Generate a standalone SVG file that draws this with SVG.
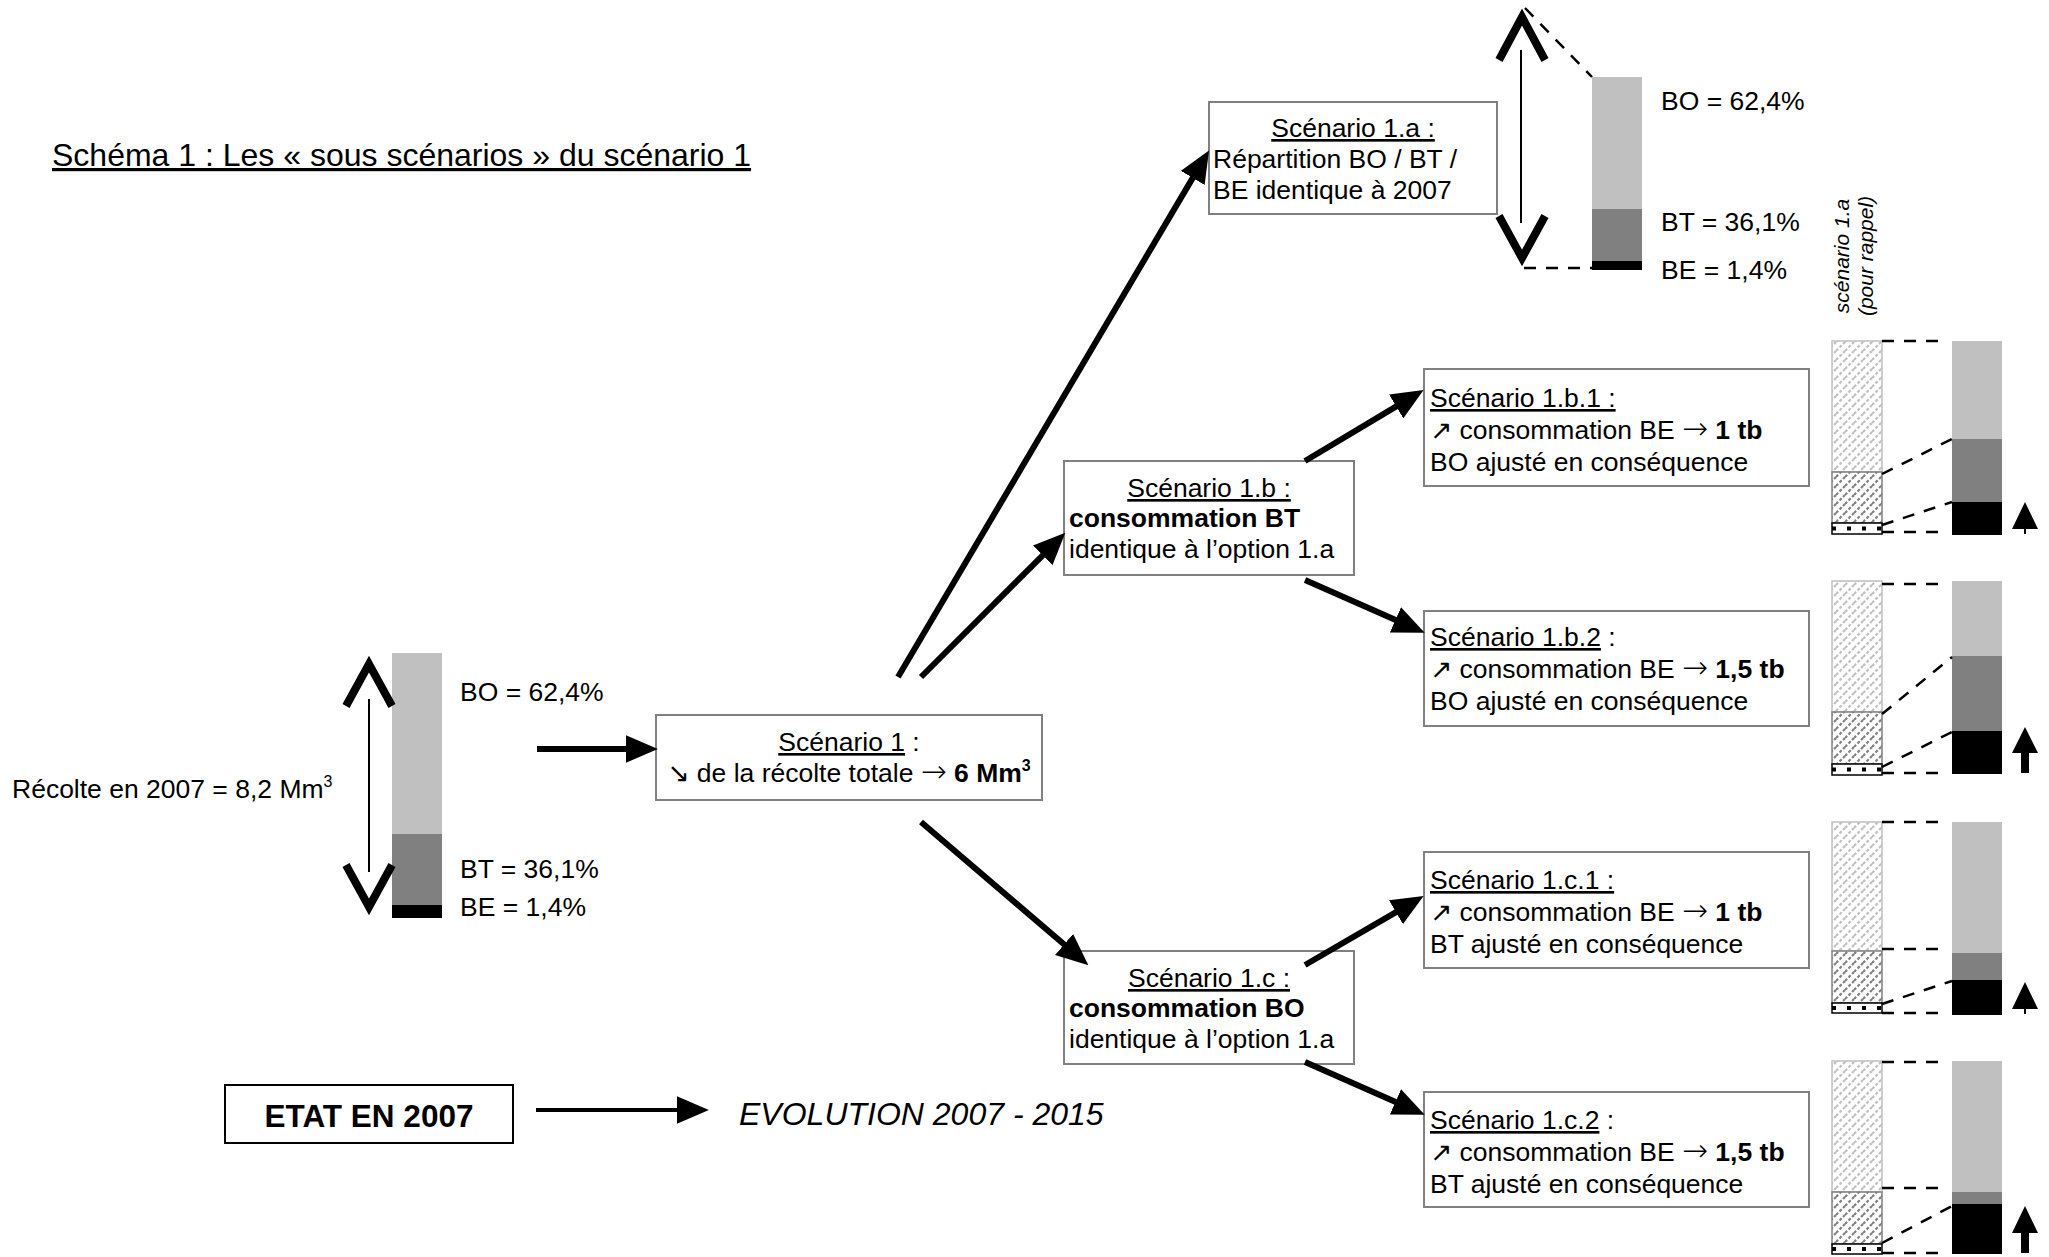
<svg xmlns="http://www.w3.org/2000/svg" width="2049" height="1257" viewBox="0 0 2049 1257">
<style>
text{font-family:"Liberation Sans",Arial,"DejaVu Sans",sans-serif;font-size:26.5px;fill:#000}
.u{text-decoration:underline}
.b{font-weight:bold}
.ar{font-family:"DejaVu Sans",sans-serif;font-size:26.5px}
.ra{font-family:"DejaVu Sans",sans-serif;font-size:31px;font-weight:200}
.box{fill:#fff;stroke:#808080;stroke-width:2}
.con{stroke:#000;stroke-width:6;fill:none;marker-end:url(#ah)}
.chev{stroke:#000;stroke-width:8;fill:none;stroke-linejoin:miter;stroke-miterlimit:10}
.thin{stroke:#000;stroke-width:2;fill:none}
.dash{stroke:#000;stroke-width:2.5;stroke-dasharray:12,10;fill:none}
.lo{fill:#c0c0c0}.md{fill:#808080}.hi{fill:#000}
.hl{fill:url(#hL);stroke:#c0c0c0;stroke-width:1.5}
.hm{fill:url(#hM);stroke:#808080;stroke-width:1.5}
.hb{fill:#fff;stroke:#000;stroke-width:1.5}
.hbd{stroke:#000;stroke-width:4;stroke-dasharray:4,11;fill:none}
</style>
<defs>
<marker id="ah" markerUnits="userSpaceOnUse" markerWidth="32" markerHeight="28" viewBox="0 0 30 26" refX="2" refY="13" orient="auto">
<path d="M0,0 L30,13 L0,26 z" fill="#000"/>
</marker>
<pattern id="hL" patternUnits="userSpaceOnUse" width="9" height="9">
<rect width="9" height="9" fill="#fff"/>
<path d="M0,9 L9,0 M-2,2 L2,-2 M7,11 L11,7" stroke="#c0c0c0" stroke-width="2.2" stroke-dasharray="3,2"/>
</pattern>
<pattern id="hM" patternUnits="userSpaceOnUse" width="9" height="9">
<rect width="9" height="9" fill="#fff"/>
<path d="M0,9 L9,0 M-2,2 L2,-2 M7,11 L11,7" stroke="#808080" stroke-width="2.2" stroke-dasharray="3,2"/>
</pattern>
</defs>

<text id="title" x="52" y="166" style="font-size:32px" class="u">Schéma 1 : Les « sous scénarios » du scénario 1</text>

<g id="etat2007">
<rect x="392" y="653" width="50" height="181" class="lo"/>
<rect x="392" y="834" width="50" height="71" class="md"/>
<rect x="392" y="905" width="50" height="13" class="hi"/>
<line x1="369" y1="699" x2="369" y2="872" class="thin"/>
<path d="M346,706 L369,664 L392,706" class="chev"/>
<path d="M346,865 L369,907 L392,865" class="chev"/>
<text x="460" y="701">BO = 62,4%</text>
<text x="460" y="878">BT = 36,1%</text>
<text x="460" y="916">BE = 1,4%</text>
<text x="12" y="798">Récolte en 2007 = 8,2 Mm<tspan style="font-size:16px" dy="-11">3</tspan></text>
</g>

<g id="scenario1">
<rect x="656" y="715" width="386" height="85" class="box"/>
<text x="849" y="751" text-anchor="middle"><tspan class="u">Scénario 1</tspan> :</text>
<text x="849" y="782" text-anchor="middle"><tspan class="ar">↘</tspan> de la récolte totale <tspan class="ra">→</tspan> <tspan class="b">6 Mm</tspan><tspan class="b" style="font-size:16px" dy="-11">3</tspan></text>
</g>

<g id="scenario1a">
<rect x="1209" y="102" width="288" height="112" class="box"/>
<text x="1353" y="137" text-anchor="middle" class="u">Scénario 1.a :</text>
<text x="1213" y="168">Répartition BO / BT /</text>
<text x="1213" y="199">BE identique à 2007</text>
</g>

<g id="bar1a">
<line x1="1521" y1="50" x2="1521" y2="223" class="thin"/>
<path d="M1499,60 L1522,17 L1545,60" class="chev"/>
<path d="M1499,216 L1522,258 L1545,216" class="chev"/>
<line x1="1525" y1="8" x2="1592" y2="77" class="dash"/>
<line x1="1524" y1="268" x2="1592" y2="268" class="dash"/>
<rect x="1592" y="77" width="50" height="132" class="lo"/>
<rect x="1592" y="209" width="50" height="52" class="md"/>
<rect x="1592" y="261" width="50" height="9" class="hi"/>
<text x="1661" y="110">BO = 62,4%</text>
<text x="1661" y="231">BT = 36,1%</text>
<text x="1661" y="279">BE = 1,4%</text>
</g>

<g id="rappel">
<text transform="translate(1849,256) rotate(-90)" text-anchor="middle" style="font-size:21px;font-style:italic">scénario 1.a</text>
<text transform="translate(1873,256) rotate(-90)" text-anchor="middle" style="font-size:21px;font-style:italic">(pour rappel)</text>
</g>

<g id="scenario1b">
<rect x="1064" y="461" width="290" height="114" class="box"/>
<text x="1209" y="497" text-anchor="middle" class="u">Scénario 1.b :</text>
<text x="1069" y="527" class="b">consommation BT</text>
<text x="1069" y="558">identique à l’option 1.a</text>
</g>

<g id="scenario1c">
<rect x="1064" y="951" width="290" height="113" class="box"/>
<text x="1209" y="987" text-anchor="middle" class="u">Scénario 1.c :</text>
<text x="1069" y="1017" class="b">consommation BO</text>
<text x="1069" y="1048">identique à l’option 1.a</text>
</g>

<g id="scenario1b1">
<rect x="1424" y="369" width="385" height="117" class="box"/>
<text x="1430" y="407" class="u">Scénario 1.b.1 :</text>
<text x="1430" y="439"><tspan class="ar">↗</tspan> consommation BE <tspan class="ra">→</tspan> <tspan class="b">1 tb</tspan></text>
<text x="1430" y="471">BO ajusté en conséquence</text>
</g>

<g id="scenario1b2">
<rect x="1424" y="611" width="385" height="115" class="box"/>
<text x="1430" y="646"><tspan class="u">Scénario 1.b.2</tspan> :</text>
<text x="1430" y="678"><tspan class="ar">↗</tspan> consommation BE <tspan class="ra">→</tspan> <tspan class="b">1,5 tb</tspan></text>
<text x="1430" y="710">BO ajusté en conséquence</text>
</g>

<g id="scenario1c1">
<rect x="1424" y="852" width="385" height="116" class="box"/>
<text x="1430" y="889" class="u">Scénario 1.c.1 :</text>
<text x="1430" y="921"><tspan class="ar">↗</tspan> consommation BE <tspan class="ra">→</tspan> <tspan class="b">1 tb</tspan></text>
<text x="1430" y="953">BT ajusté en conséquence</text>
</g>

<g id="scenario1c2">
<rect x="1424" y="1092" width="385" height="115" class="box"/>
<text x="1430" y="1129"><tspan class="u">Scénario 1.c.2</tspan> :</text>
<text x="1430" y="1161"><tspan class="ar">↗</tspan> consommation BE <tspan class="ra">→</tspan> <tspan class="b">1,5 tb</tspan></text>
<text x="1430" y="1193">BT ajusté en conséquence</text>
</g>

<g id="bars1b1">
<rect x="1832" y="341" width="50" height="131" class="hl"/>
<rect x="1832" y="472" width="50" height="51" class="hm"/>
<rect x="1832" y="523" width="50" height="11" class="hb"/>
<line x1="1832" y1="528.5" x2="1882" y2="528.5" class="hbd"/>
<rect x="1952" y="341" width="50" height="98" class="lo"/>
<rect x="1952" y="439" width="50" height="63" class="md"/>
<rect x="1952" y="502" width="50" height="33" class="hi"/>
<line x1="1882" y1="341" x2="1946" y2="341" class="dash"/>
<line x1="1882" y1="474" x2="1952" y2="439" class="dash"/>
<line x1="1882" y1="525" x2="1952" y2="502" class="dash"/>
<line x1="1882" y1="532" x2="1946" y2="532" class="dash"/>
<polygon points="2012,529 2038,529 2025,502" fill="#000"/>
<rect x="2024" y="528" width="2" height="6" fill="#000"/>
</g>

<g id="bars1b2">
<rect x="1832" y="581" width="50" height="131" class="hl"/>
<rect x="1832" y="712" width="50" height="52" class="hm"/>
<rect x="1832" y="764" width="50" height="11" class="hb"/>
<line x1="1832" y1="769.5" x2="1882" y2="769.5" class="hbd"/>
<rect x="1952" y="581" width="50" height="75" class="lo"/>
<rect x="1952" y="656" width="50" height="75" class="md"/>
<rect x="1952" y="731" width="50" height="43" class="hi"/>
<line x1="1882" y1="584" x2="1946" y2="584" class="dash"/>
<line x1="1882" y1="714" x2="1952" y2="657" class="dash"/>
<line x1="1882" y1="767" x2="1952" y2="732" class="dash"/>
<line x1="1882" y1="773" x2="1946" y2="773" class="dash"/>
<polygon points="2012,753 2038,753 2025,727" fill="#000"/>
<rect x="2021" y="752" width="8" height="21" fill="#000"/>
</g>

<g id="bars1c1">
<rect x="1832" y="822" width="50" height="129" class="hl"/>
<rect x="1832" y="951" width="50" height="52" class="hm"/>
<rect x="1832" y="1003" width="50" height="10" class="hb"/>
<line x1="1832" y1="1008" x2="1882" y2="1008" class="hbd"/>
<rect x="1952" y="822" width="50" height="131" class="lo"/>
<rect x="1952" y="953" width="50" height="27" class="md"/>
<rect x="1952" y="980" width="50" height="35" class="hi"/>
<line x1="1882" y1="822" x2="1946" y2="822" class="dash"/>
<line x1="1882" y1="949" x2="1946" y2="949" class="dash"/>
<line x1="1882" y1="1004" x2="1952" y2="981" class="dash"/>
<line x1="1882" y1="1013" x2="1946" y2="1013" class="dash"/>
<polygon points="2012,1009 2038,1009 2025,982" fill="#000"/>
<rect x="2024" y="1008" width="2" height="6" fill="#000"/>
</g>

<g id="bars1c2">
<rect x="1832" y="1061" width="50" height="131" class="hl"/>
<rect x="1832" y="1192" width="50" height="52" class="hm"/>
<rect x="1832" y="1244" width="50" height="10" class="hb"/>
<line x1="1832" y1="1249" x2="1882" y2="1249" class="hbd"/>
<rect x="1952" y="1061" width="50" height="131" class="lo"/>
<rect x="1952" y="1192" width="50" height="12" class="md"/>
<rect x="1952" y="1204" width="50" height="50" class="hi"/>
<line x1="1882" y1="1062" x2="1946" y2="1062" class="dash"/>
<line x1="1882" y1="1188" x2="1946" y2="1188" class="dash"/>
<line x1="1882" y1="1243" x2="1952" y2="1206" class="dash"/>
<line x1="1882" y1="1253" x2="1946" y2="1253" class="dash"/>
<polygon points="2012,1233 2038,1233 2025,1206" fill="#000"/>
<rect x="2021" y="1232" width="8" height="21" fill="#000"/>
</g>

<g id="legend">
<rect x="225" y="1085" width="288" height="58" fill="#fff" stroke="#000" stroke-width="2"/>
<text x="369" y="1127" text-anchor="middle" class="b" style="font-size:31.5px">ETAT EN 2007</text>
<text x="739" y="1125" style="font-size:32px;font-style:italic">EVOLUTION 2007 - 2015</text>
</g>

<g id="connectors">
<line x1="537" y1="749" x2="628" y2="749" class="con"/>
<line x1="898" y1="677" x2="1193.8" y2="176.1" class="con"/>
<line x1="921" y1="677" x2="1044.2" y2="553.8" class="con"/>
<line x1="921" y1="822" x2="1065.7" y2="945.8" class="con"/>
<line x1="1305" y1="461" x2="1398" y2="405.4" class="con"/>
<line x1="1305" y1="580" x2="1397.4" y2="620.7" class="con"/>
<line x1="1305" y1="965" x2="1397.8" y2="911.1" class="con"/>
<line x1="1305" y1="1062" x2="1397.4" y2="1102.7" class="con"/>
<line x1="536" y1="1110" x2="679" y2="1110" style="stroke:#000;stroke-width:4;marker-end:url(#ah)"/>
</g>
</svg>
